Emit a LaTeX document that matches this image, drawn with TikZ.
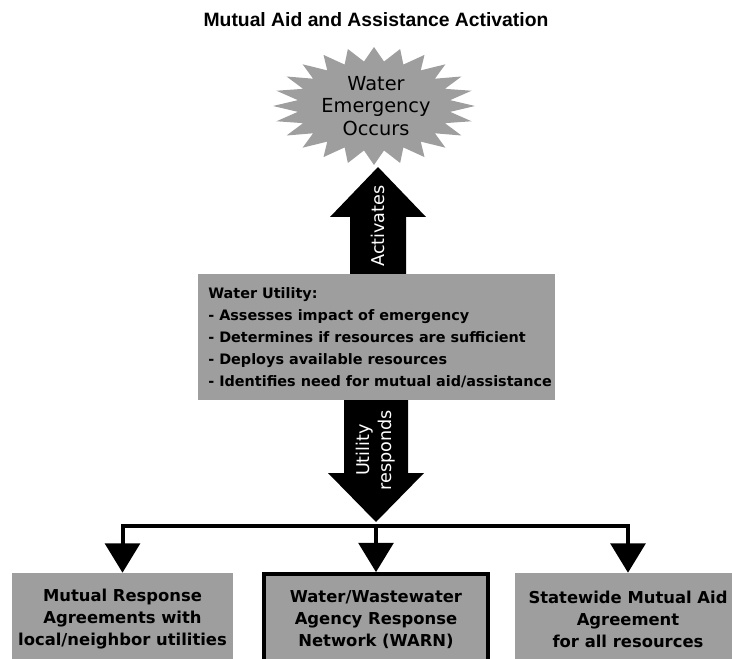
\documentclass[tikz,border=0pt]{standalone}
\usepackage{fontspec}
\setmainfont{Liberation Sans}
\newfontfamily\dvfont{DejaVu Sans}
\usetikzlibrary{calc,arrows.meta}
\definecolor{stipple}{gray}{0.62}
\begin{document}
\begin{tikzpicture}[x=0.75pt,y=-0.75pt,
  panel/.style={fill=stipple, draw=none, inner sep=0pt},
  boxtext/.style={font=\dvfont\bfseries\fontsize{12.3}{16.5}\selectfont, align=center},
  arrowlabel/.style={font=\dvfont\fontsize{13.2}{16.5}\selectfont, text=white, align=center, rotate=90, inner sep=0pt},
  branch/.style={line width=3pt, -{Triangle[width=26pt,length=22pt]}},
  blockarrow/.style={fill=black, draw=none}
]
\useasboundingbox (0,0) rectangle (732,659);
\clip (0,0) rectangle (732,659);

% title
\node[font=\bfseries\fontsize{14.5}{17}\selectfont] (title) at (376,20) {Mutual Aid and Assistance Activation};

% star burst
\fill[stipple] (374,47)
  \foreach \i [evaluate=\i as \f using {ifthenelse(mod(\i,2)==0,1,0.76)},
               evaluate=\i as \a using {-90+\i*7.5}] in {1,...,47}
  { -- ({374+101*\f*cos(\a)},{106+59*\f*sin(\a)}) } -- cycle;
\node[font=\dvfont\fontsize{14.5}{17}\selectfont, align=center] (emerg) at (376,106) {Water\\Emergency\\Occurs};

% utility box
\node[panel, anchor=north west, minimum width=267.75pt, minimum height=94.5pt] (util) at (198,274) {};
\node[font=\dvfont\bfseries\fontsize{10.8}{16.5}\selectfont, align=left, anchor=west, inner sep=0pt] (utiltext) at (208,337.5)
  {Water Utility:\\- Assesses impact of emergency\\- Determines if resources are sufficient\\- Deploys available resources\\- Identifies need for mutual aid/assistance};

% up block arrow (Activates)
\fill[blockarrow] (350,274) -- (350,217) -- (330,217) -- (378,167) -- (426,217) -- (406,217) -- (406,274) -- cycle;
\node[arrowlabel] (act) at (378,226) {Activates};

% down block arrow (Utility responds)
\fill[blockarrow] (344,400) -- (344,473) -- (328,473) -- (376,522) -- (424,473) -- (408,473) -- (408,400) -- cycle;
\node[arrowlabel] (resp) at (376,450) {Utility\\responds};
\coordinate (split) at (376,526);

% bottom boxes
\node[panel, minimum width=165.75pt, minimum height=69pt, boxtext] (left) at (122.5,619)
  {Mutual Response\\Agreements with\\local/neighbor utilities};
\node[panel, draw=black, line width=3pt, minimum width=168pt, minimum height=68pt, boxtext] (warn) at (376,619.5)
  {Water/Wastewater\\Agency Response\\Network (WARN)};
\node[panel, minimum width=169.5pt, minimum height=69pt, boxtext] (right) at (628,619)
  {Statewide Mutual Aid\\Agreement\\for all resources};

% distribution connectors
\draw[line width=3pt, line cap=rect] (split -| left.north) -- (split -| right.north);
\draw[branch] (split -| left.north) -- (left.north);
\draw[branch] (split) -- (warn.north);
\draw[branch] (split -| right.north) -- (right.north);
\end{tikzpicture}
\end{document}
